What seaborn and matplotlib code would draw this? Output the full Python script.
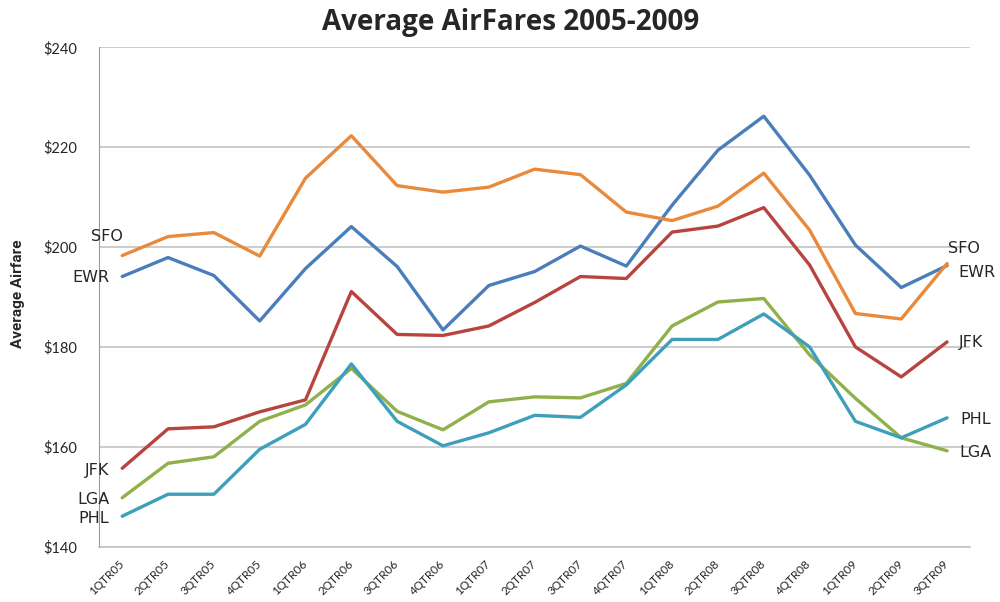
import numpy as np
import pandas as pd
import seaborn as sns
import matplotlib.pyplot as plt
from matplotlib.ticker import FuncFormatter

#quarters on the x axis
quarters = ["1QTR05", "2QTR05", "3QTR05", "4QTR05",
            "1QTR06", "2QTR06", "3QTR06", "4QTR06",
            "1QTR07", "2QTR07", "3QTR07", "4QTR07",
            "1QTR08", "2QTR08", "3QTR08", "4QTR08",
            "1QTR09", "2QTR09", "3QTR09"]

#average fare per airport
ewr = [194.1, 197.9, 194.3, 185.2, 195.7, 204.1, 196.1, 183.4, 192.3, 195.1,
       200.2, 196.2, 208.4, 219.4, 226.2, 214.4, 200.4, 191.9, 196.3]
sfo = [198.3, 202.1, 202.9, 198.2, 213.8, 222.3, 212.3, 211.0, 212.0, 215.6,
       214.5, 207.0, 205.3, 208.2, 214.8, 203.4, 186.7, 185.6, 196.7]
jfk = [155.7, 163.6, 164.0, 167.0, 169.4, 191.1, 182.5, 182.3, 184.2, 188.9,
       194.1, 193.7, 203.0, 204.2, 207.9, 196.4, 180.0, 174.0, 181.0]
lga = [149.8, 156.7, 158.0, 165.1, 168.4, 175.7, 167.1, 163.4, 169.0, 170.0,
       169.8, 172.7, 184.2, 189.0, 189.7, 178.4, 169.7, 161.8, 159.2]
phl = [146.1, 150.5, 150.5, 159.5, 164.5, 176.6, 165.1, 160.2, 162.8, 166.3,
       165.9, 172.4, 181.5, 181.5, 186.6, 180.0, 165.1, 161.8, 165.8]

airports = ["EWR", "SFO", "JFK", "LGA", "PHL"]
series = [ewr, sfo, jfk, lga, phl]
colors = {"EWR": "#4A7EBB", "SFO": "#E8893C", "JFK": "#B8443F",
          "LGA": "#8FB04A", "PHL": "#3E9FBA"}

#long table for seaborn
rows = []
for code, vals in zip(airports, series):
    for i, v in enumerate(vals):
        rows.append({"idx": i, "fare": v, "airport": code})
df = pd.DataFrame(rows)

sns.set_style("white")
plt.rcParams["font.family"] = ["Lato", "DejaVu Sans"]

fig = plt.figure(figsize=(10, 6.02), dpi=100)
ax = fig.add_axes([0.0993, 0.0919, 0.8707, 0.8295])

sns.lineplot(data=df, x="idx", y="fare", hue="airport", hue_order=airports,
             palette=colors, linewidth=2.4, legend=False, ax=ax)

ax.set_xlim(-0.5, 18.5)
ax.set_ylim(140, 240)
ax.set_yticks([140, 160, 180, 200, 220, 240])
ax.yaxis.set_major_formatter(FuncFormatter(lambda v, p: "$%d" % v))
ax.grid(axis="y", color="#BEBEBE", linewidth=1.1)
ax.set_axisbelow(True)

ax.set_xticks(range(len(quarters)))
ax.set_xticklabels(quarters, rotation=45, ha="right", va="center",
                   rotation_mode="anchor", fontsize=8.5)
ax.tick_params(axis="x", length=0, pad=11)
ax.tick_params(axis="y", length=0, pad=16, labelsize=10.5)

for s in ["top", "right"]:
    ax.spines[s].set_visible(False)
ax.spines["left"].set_color("#9A9A9A")
ax.spines["bottom"].set_color("#BEBEBE")
ax.spines["bottom"].set_linewidth(1.1)

ax.set_xlabel("")
ax.set_ylabel("")
fig.text(0.018, 0.512, "Average Airfare", rotation=90, ha="center", va="center",
         fontsize=11, fontweight="bold", family=["Roboto", "DejaVu Sans"],
         fontstretch="condensed")
fig.text(0.511, 0.963, "Average AirFares 2005-2009", ha="center", va="center",
         fontsize=20, fontweight="bold", family=["Open Sans", "DejaVu Sans"])

#series labels at both ends
left_off = {"SFO": (1, 19), "EWR": (-13, -1), "JFK": (-13, -2),
            "LGA": (-13, -2), "PHL": (-13, -2)}
right_off = {"SFO": (1, 15), "EWR": (11, -7), "JFK": (12, -1),
             "LGA": (12, -2), "PHL": (13, -2)}
last = len(quarters) - 1
for code, vals in zip(airports, series):
    ax.annotate(code, (0, vals[0]), xytext=left_off[code], textcoords="offset pixels",
                ha="right", va="center", fontsize=11.5, family="DejaVu Sans")
    ax.annotate(code, (last, vals[-1]), xytext=right_off[code], textcoords="offset pixels",
                ha="left", va="center", fontsize=11.5, family="DejaVu Sans",
                annotation_clip=False)

plt.savefig("out.png", dpi=100)
plt.close()
